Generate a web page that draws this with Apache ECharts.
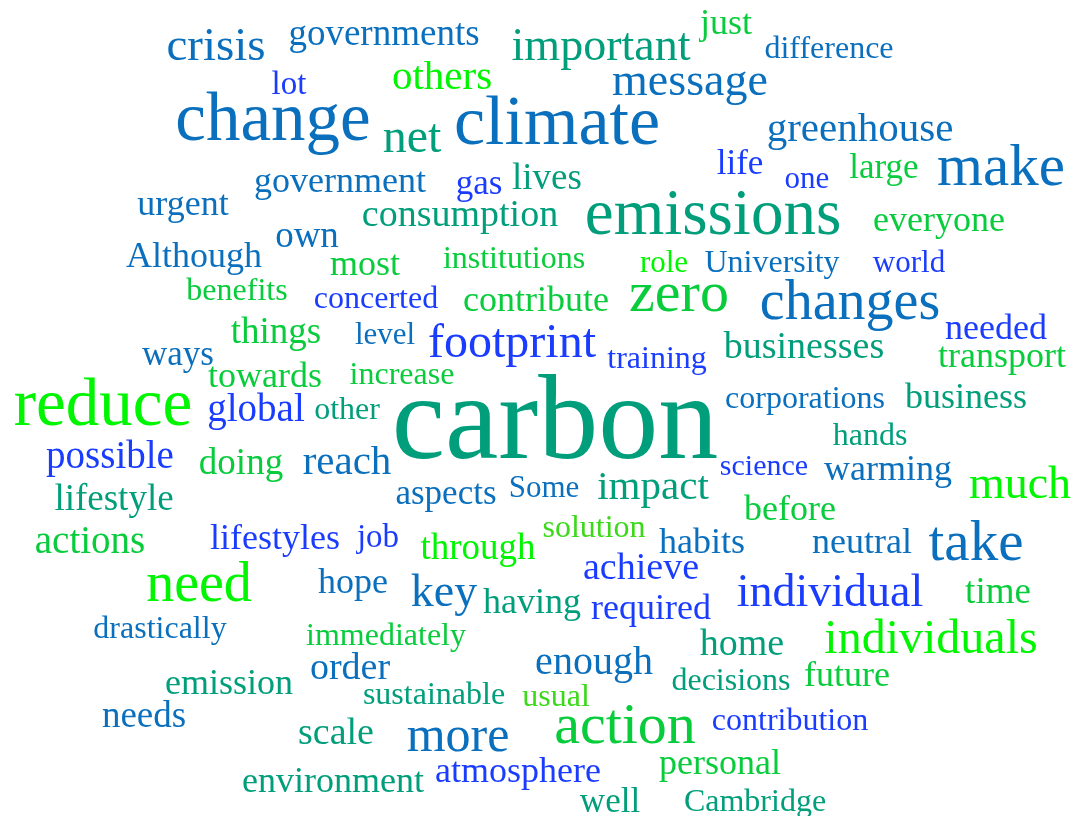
<!DOCTYPE html>
<html>
<head>
<meta charset="utf-8">
<title>Word cloud</title>
<script src="https://cdn.jsdelivr.net/npm/echarts@6/dist/echarts.min.js"></script>
<style>
  html, body { margin: 0; padding: 0; background: #fff; }
  #chart { width: 1074px; height: 816px; }
</style>
</head>
<body>
<div id="chart"></div>
<script>
// words, their place in the cloud (x, y in axis units), weight and colour group
const words = ['just','governments','difference','crisis','important','others','lot','message','change','net',
  'climate','greenhouse','life','one','large','make','government','gas','lives','urgent',
  'consumption','emissions','everyone','own','Although','most','institutions','role','University','world',
  'benefits','concerted','contribute','zero','changes','things','level','footprint','needed','ways',
  'businesses','training','transport','towards','increase','reduce','global','other','carbon','corporations',
  'business','hands','possible','doing','reach','science','warming','much','impact','Some',
  'aspects','lifestyle','before','solution','actions','lifestyles','job','through','habits','neutral',
  'take','need','hope','key','achieve','having','required','individual','time','drastically',
  'immediately','home','individuals','enough','order','emission','sustainable','usual','decisions','future',
  'needs','scale','more','action','contribution','environment','atmosphere','personal','well','Cambridge']

const xPos = [726,384,829,216,601,442,289,690,273,412,
  557,860,740,807,884,1001,340,479,547,183,
  460,713,939,307,194,365,514,664,772,909,
  237,376,536,679,850,276,385,512,996,178,
  804,657,1002,265,402,103,256,347,555,805,
  966,870,110,241,347,764,888,1020,653,544,
  446,114,790,594,90,275,378,478,702,862,
  976,199,353,444,641,532,651,830,998,160,
  386,742,931,594,350,229,434,556,731,847,
  144,336,458,625,790,333,518,720,610,755]

const yPos = [25,35,50,48,48,78,85,83,122,139,
  126,130,165,180,169,169,183,185,179,206,
  216,217,222,237,258,266,260,264,264,264,
  292,300,302,296,304,333,336,344,330,356,
  348,360,358,378,376,407,411,411,426,400,
  399,437,458,464,463,467,471,486,488,489,
  495,500,511,529,543,540,538,549,544,544,
  545,586,584,594,569,604,610,594,593,630,
  637,645,640,663,669,685,696,698,682,677,
  717,734,738,728,722,783,773,765,803,803]

const weights = [36,37,32,47,46,41,33,46,69,48,
  70,41,35,31,35,59,36,35,37,36,
  38,65,36,37,36,36,32,31,32,31,
  32,32,36,58,56,37,31,48,36,35,
  38,32,36,36,32,67,39,32,120,32,
  36,32,39,37,41,30,36,46,41,31,
  35,37,36,32,39,36,33,37,36,36,
  57,56,36,46,38,36,36,46,37,32,
  32,38,48,40,38,36,32,32,32,36,
  37,38,50,58,32,36,36,36,35,32]

// 0 dark blue, 1 teal, 2 blue, 3 green, 4 bright green, 5 yellow green
const groups = [3,0,0,0,1,4,2,0,0,1,
  0,0,2,2,3,0,0,2,1,0,
  1,1,3,0,0,3,3,4,0,2,
  3,2,3,3,0,3,0,2,2,0,
  1,2,3,3,3,4,2,1,1,0,
  1,1,2,3,0,2,0,4,1,0,
  0,1,3,5,3,2,2,4,0,0,
  0,4,0,0,2,1,2,2,3,0,
  3,1,4,0,0,1,1,5,1,3,
  0,1,0,3,2,1,2,3,1,1]

const palette = ['#0a6fbd', '#009e7a', '#1a3cff', '#08cc3c', '#00f500', '#3cd81a']

const chart = echarts.init(document.getElementById('chart'))

const data = words.map((w, i) => ({
  name: w,
  value: [xPos[i], yPos[i]],
  label: {
    fontSize: weights[i],
    color: palette[groups[i]]
  }
}))

chart.setOption({
  backgroundColor: '#ffffff',
  animation: false,
  grid: { left: 0, right: 0, top: 0, bottom: 0 },
  xAxis: { type: 'value', min: 0, max: 1074, show: false },
  yAxis: { type: 'value', min: 0, max: 816, inverse: true, show: false },
  series: [{
    type: 'scatter',
    symbolSize: 0,
    itemStyle: { opacity: 1 },
    data: data,
    label: {
      show: true,
      position: 'inside',
      formatter: '{b}',
      fontFamily: '"Liberation Serif", "Times New Roman", serif',
      align: 'center',
      verticalAlign: 'middle',
      opacity: 1
    }
  }]
})
</script>
</body>
</html>
